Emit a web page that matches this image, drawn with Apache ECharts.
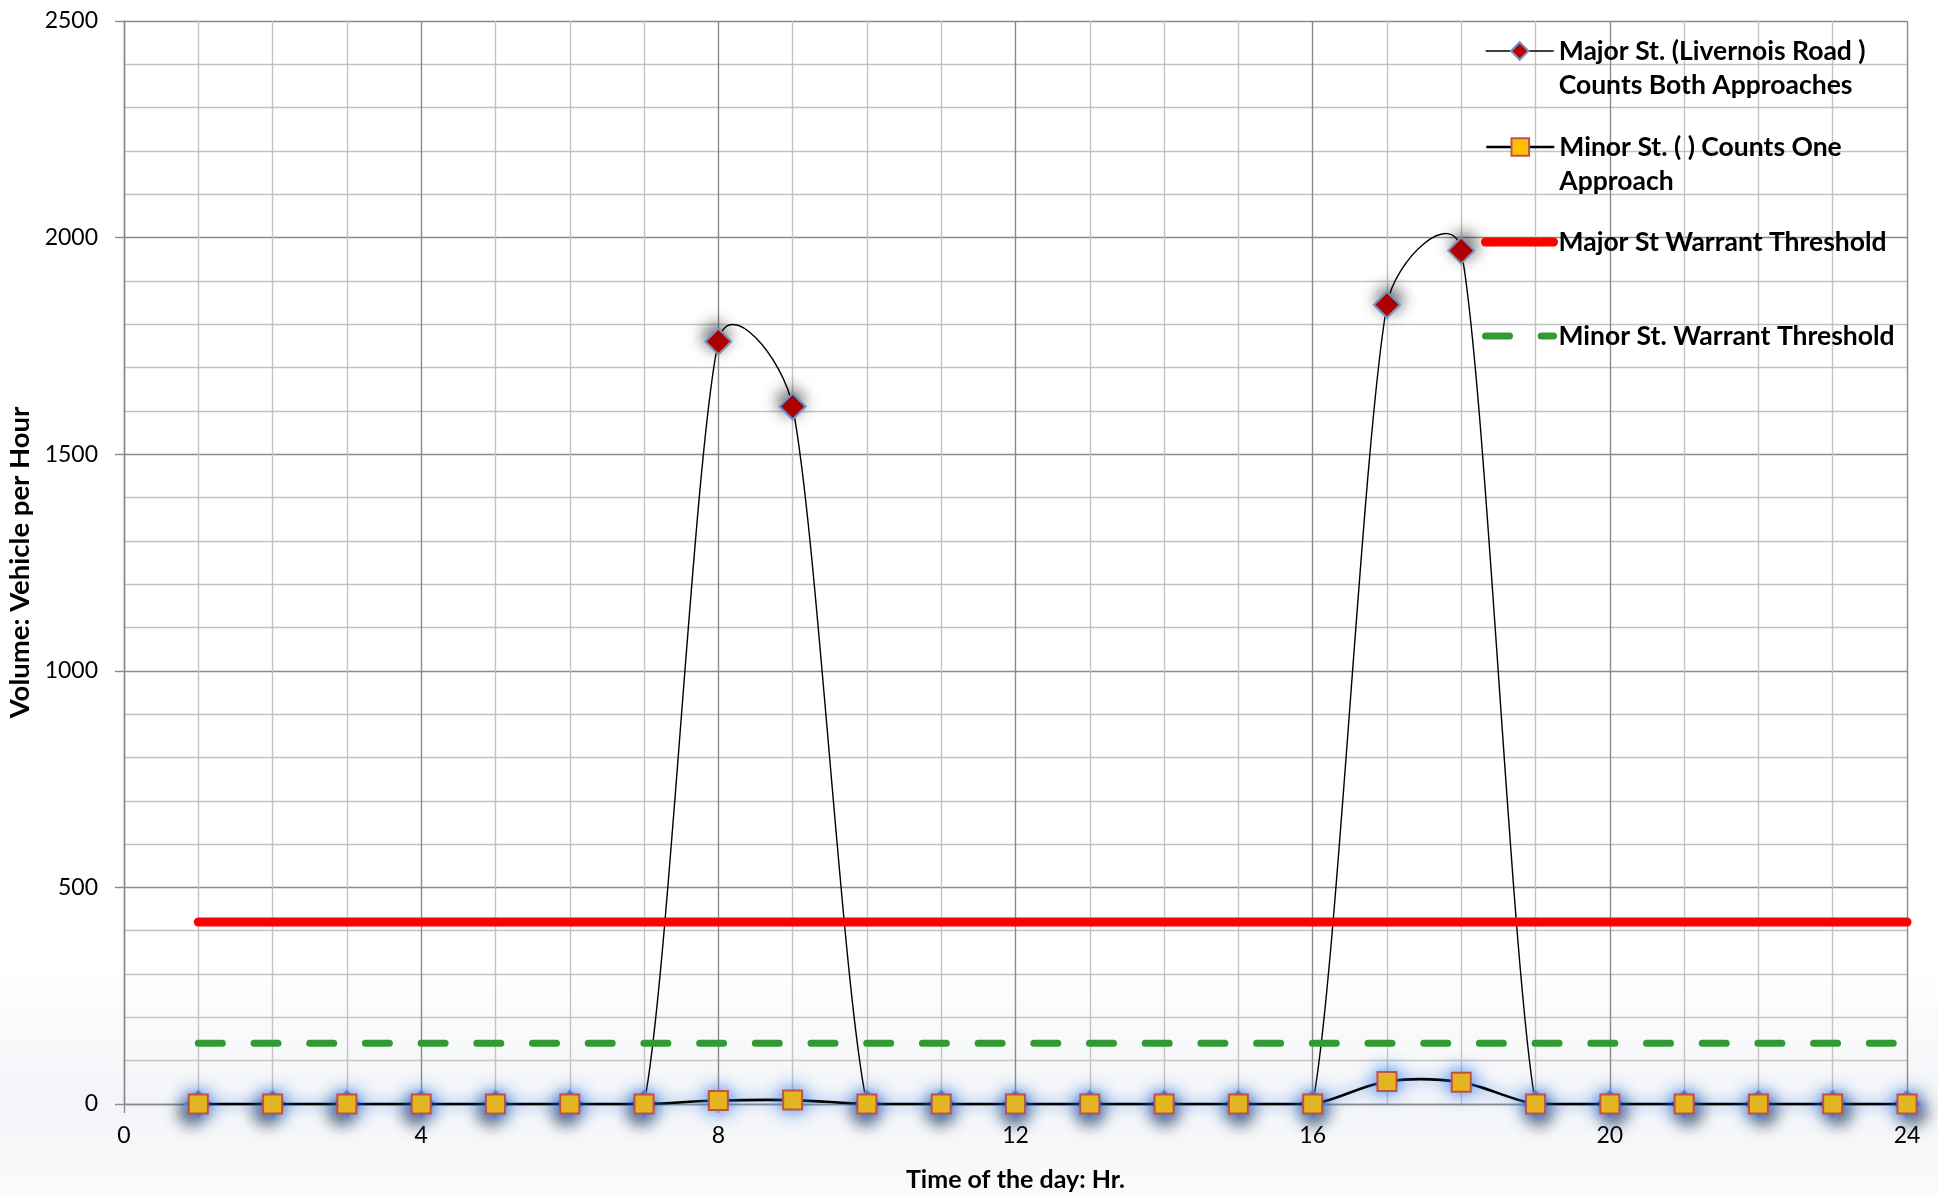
<!DOCTYPE html>
<html>
<head>
<meta charset="utf-8">
<title>Hourly volume vs warrant thresholds</title>
<script src="https://cdn.jsdelivr.net/npm/echarts@6/dist/echarts.min.js"></script>
<style>
  html, body { margin: 0; padding: 0; background: #ffffff; }
  #chart { width: 1938px; height: 1195px; }
</style>
</head>
<body>
<div id="chart"></div>
<script>
// Hour of the day for each count
const hours = [1, 2, 3, 4, 5, 6, 7, 8, 9, 10, 11, 12, 13, 14, 15, 16, 17, 18, 19, 20, 21, 22, 23, 24];
// Major street volume, both approaches (veh/h)
const majorCounts = [0, 0, 0, 0, 0, 0, 0, 1760, 1610, 0, 0, 0, 0, 0, 0, 0, 1845, 1970, 0, 0, 0, 0, 0, 0];
// Minor street volume, one approach (veh/h)
const minorCounts = [0, 0, 0, 0, 0, 0, 0, 8, 9, 0, 0, 0, 0, 0, 0, 0, 52, 50, 0, 0, 0, 0, 0, 0];
// Warrant threshold lines, drawn across the counted hours
const thresholdHours = [1, 24];
const majorThreshold = [420, 420];
const minorThreshold = [140, 140];

const seriesNames = [
  'Major St. (Livernois Road )\nCounts Both Approaches',
  'Minor St. ( ) Counts One\nApproach',
  'Major St Warrant Threshold',
  'Minor St. Warrant Threshold'
];

const FONT = 'Lato, "Open Sans", sans-serif';
const minorGrid = '#c3c3c3';
const majorGrid = '#8a8a8a';

// Each diamond throws a soft shadow away from the middle of the plot
const majorData = hours.map((h, i) => ({
  value: [h, majorCounts[i]],
  itemStyle: {
    shadowOffsetX: (h - 12.5) * 0.55,
    shadowOffsetY: majorCounts[i] > 500 ? -5 : 8
  }
}));
const majorPairs = hours.map((h, i) => [h, majorCounts[i]]);
const minorPairs = hours.map((h, i) => [h, minorCounts[i]]);
const majorThrData = thresholdHours.map((h, i) => [h, majorThreshold[i]]);
const minorThrData = thresholdHours.map((h, i) => [h, minorThreshold[i]]);

// Spreadsheet-style smoothed line: one cubic Bezier per pair of neighbouring points.
// The tangent at a point follows its two neighbours; the handle length is 1/6 of
// that chord, but never more than half of the segment being drawn. A run of equal
// counts stays flat.
function smoothSegmentRenderer(lineStyle) {
  return function (params, api) {
    const n = params.dataInsideLength;
    const i = params.dataIndexInside;
    if (i >= n - 1) return { type: 'group', children: [] };
    const pt = (k) => {
      const j = Math.max(0, Math.min(n - 1, k));
      return api.coord([api.value(0, j), api.value(1, j)]);
    };
    const p0 = pt(i - 1), p1 = pt(i), p2 = pt(i + 1), p3 = pt(i + 2);
    const dist = (a, b) => Math.hypot(b[0] - a[0], b[1] - a[1]);
    const d12 = dist(p1, p2);
    const d02 = dist(p0, p2);
    const d13 = dist(p1, p3);
    const f1 = d02 > 0 ? Math.min(1 / 6, d12 / (2 * d02)) : 0;
    const f2 = d13 > 0 ? Math.min(1 / 6, d12 / (2 * d13)) : 0;
    const flat = api.value(1, i) === api.value(1, i + 1);
    return {
      type: 'bezierCurve',
      silent: true,
      shape: {
        x1: p1[0], y1: p1[1],
        x2: p2[0], y2: p2[1],
        cpx1: p1[0] + (p2[0] - p0[0]) * f1,
        cpy1: flat ? p1[1] : p1[1] + (p2[1] - p0[1]) * f1,
        cpx2: p2[0] - (p3[0] - p1[0]) * f2,
        cpy2: flat ? p2[1] : p2[1] - (p3[1] - p1[1]) * f2
      },
      style: Object.assign({ fill: 'none' }, lineStyle)
    };
  };
}

function legendBlock(name, left, top, twoLine, itemStyle, lineStyle) {
  return {
    show: true,
    orient: 'vertical',
    left: left,
    top: top,
    padding: 0,
    itemWidth: 68,
    itemHeight: 22,
    selectedMode: false,
    data: [{ name: name, itemStyle: itemStyle, lineStyle: lineStyle }],
    formatter: twoLine ? (n) => '\n' + n : (n) => n,
    textStyle: {
      fontFamily: FONT,
      fontWeight: 'bold',
      fontSize: 26.5,
      lineHeight: 34,
      color: '#000000'
    }
  };
}

const chart = echarts.init(document.getElementById('chart'), null, { renderer: 'canvas' });

chart.setOption({
  backgroundColor: '#ffffff',
  animation: false,
  textStyle: { fontFamily: FONT },
  graphic: [{
    type: 'rect',
    z: -10,
    silent: true,
    shape: { x: 0, y: 960, width: 1938, height: 235 },
    style: {
      fill: new echarts.graphic.LinearGradient(0, 0, 0, 1, [
        { offset: 0, color: 'rgba(232,236,242,0)' },
        { offset: 0.6, color: 'rgba(232,236,242,0.55)' },
        { offset: 1, color: 'rgba(238,241,245,0.35)' }
      ])
    }
  }],
  grid: {
    left: 124,
    right: 31,
    top: 21,
    bottom: 91,
    containLabel: false,
    outerBoundsMode: 'none'
  },
  legend: [
    legendBlock(seriesNames[0], 1485, 0, true,
      { shadowBlur: 0, shadowOffsetX: 0, shadowOffsetY: 0 },
      { color: '#000000', width: 1.4, opacity: 1, shadowBlur: 0 }),
    legendBlock(seriesNames[1], 1485, 96, true,
      { shadowBlur: 0, shadowOffsetX: 0, shadowOffsetY: 0 },
      { color: '#000000', width: 2.6, opacity: 1, shadowBlur: 0 }),
    legendBlock(seriesNames[2], 1481, 225, false,
      { color: 'rgba(0,0,0,0)', borderWidth: 0, shadowBlur: 0 },
      { color: '#ff0000', width: 9, cap: 'round', opacity: 1, shadowBlur: 0 }),
    legendBlock(seriesNames[3], 1482, 319, false,
      { color: 'rgba(0,0,0,0)', borderWidth: 0, shadowBlur: 0 },
      { color: '#339933', width: 7, cap: 'round', type: [24, 31.7], opacity: 1, shadowBlur: 0 })
  ],
  xAxis: {
    type: 'value',
    min: 0,
    max: 24,
    interval: 4,
    name: 'Time of the day: Hr.',
    nameLocation: 'middle',
    nameGap: 63,
    nameTextStyle: { fontFamily: FONT, fontWeight: 'bold', fontSize: 25, color: '#000000' },
    axisLine: { show: true, onZero: false, lineStyle: { color: majorGrid, width: 1.4 } },
    axisTick: { show: true, length: 9, inside: false, lineStyle: { color: majorGrid, width: 1.4 } },
    axisLabel: { fontFamily: FONT, fontSize: 23, color: '#000000', margin: 20 },
    splitLine: { show: true, lineStyle: { color: majorGrid, width: 1.4 } },
    minorTick: { show: false, splitNumber: 4 },
    minorSplitLine: { show: true, lineStyle: { color: minorGrid, width: 1.4 } }
  },
  yAxis: {
    type: 'value',
    min: 0,
    max: 2500,
    interval: 500,
    name: 'Volume: Vehicle per Hour',
    nameLocation: 'middle',
    nameGap: 88,
    nameRotate: 90,
    nameTextStyle: { fontFamily: FONT, fontWeight: 'bold', fontSize: 27.5, color: '#000000' },
    axisLine: { show: true, onZero: false, lineStyle: { color: majorGrid, width: 1.4 } },
    axisTick: { show: true, length: 9, inside: false, lineStyle: { color: majorGrid, width: 1.4 } },
    axisLabel: { fontFamily: FONT, fontSize: 23, color: '#000000', margin: 26, formatter: (v) => String(v) },
    splitLine: { show: true, lineStyle: { color: majorGrid, width: 1.4 } },
    minorTick: { show: false, splitNumber: 5 },
    minorSplitLine: { show: true, lineStyle: { color: minorGrid, width: 1.4 } }
  },
  series: [
    // smoothed major-street curve
    {
      type: 'custom',
      data: majorPairs,
      encode: { x: 0, y: 1 },
      renderItem: smoothSegmentRenderer({ stroke: '#000000', lineWidth: 1.4 }),
      clip: false,
      z: 2
    },
    // major-street markers
    {
      name: seriesNames[0],
      type: 'line',
      data: majorData,
      symbol: 'diamond',
      symbolSize: 26,
      showAllSymbol: true,
      lineStyle: { color: 'rgba(0,0,0,0)', width: 0 },
      itemStyle: {
        color: '#c00000',
        borderColor: '#6f96c9',
        borderWidth: 2,
        shadowBlur: 16,
        shadowColor: 'rgba(0,0,0,0.65)'
      },
      emphasis: { disabled: true },
      z: 2
    },
    // smoothed minor-street curve with its blue glow
    {
      type: 'custom',
      data: minorPairs,
      encode: { x: 0, y: 1 },
      renderItem: smoothSegmentRenderer({
        stroke: '#000000',
        lineWidth: 2.6,
        shadowBlur: 14,
        shadowColor: 'rgba(60,130,235,1)'
      }),
      clip: false,
      z: 3
    },
    // minor-street markers
    {
      name: seriesNames[1],
      type: 'line',
      data: minorPairs,
      symbol: 'rect',
      symbolSize: 19,
      showAllSymbol: true,
      lineStyle: { color: 'rgba(0,0,0,0)', width: 0 },
      itemStyle: {
        color: '#ffc000',
        borderColor: '#c0504d',
        borderWidth: 2,
        shadowBlur: 18,
        shadowColor: 'rgba(45,120,235,1)'
      },
      emphasis: { disabled: true },
      z: 3
    },
    {
      name: seriesNames[2],
      type: 'line',
      data: majorThrData,
      symbol: 'none',
      lineStyle: { color: '#ff0000', width: 9, cap: 'round' },
      itemStyle: { color: '#ff0000' },
      emphasis: { disabled: true },
      z: 4
    },
    {
      name: seriesNames[3],
      type: 'line',
      data: minorThrData,
      symbol: 'none',
      lineStyle: { color: '#339933', width: 7, cap: 'round', type: [24, 31.7] },
      itemStyle: { color: '#339933' },
      emphasis: { disabled: true },
      z: 4
    }
  ]
});
</script>
</body>
</html>
